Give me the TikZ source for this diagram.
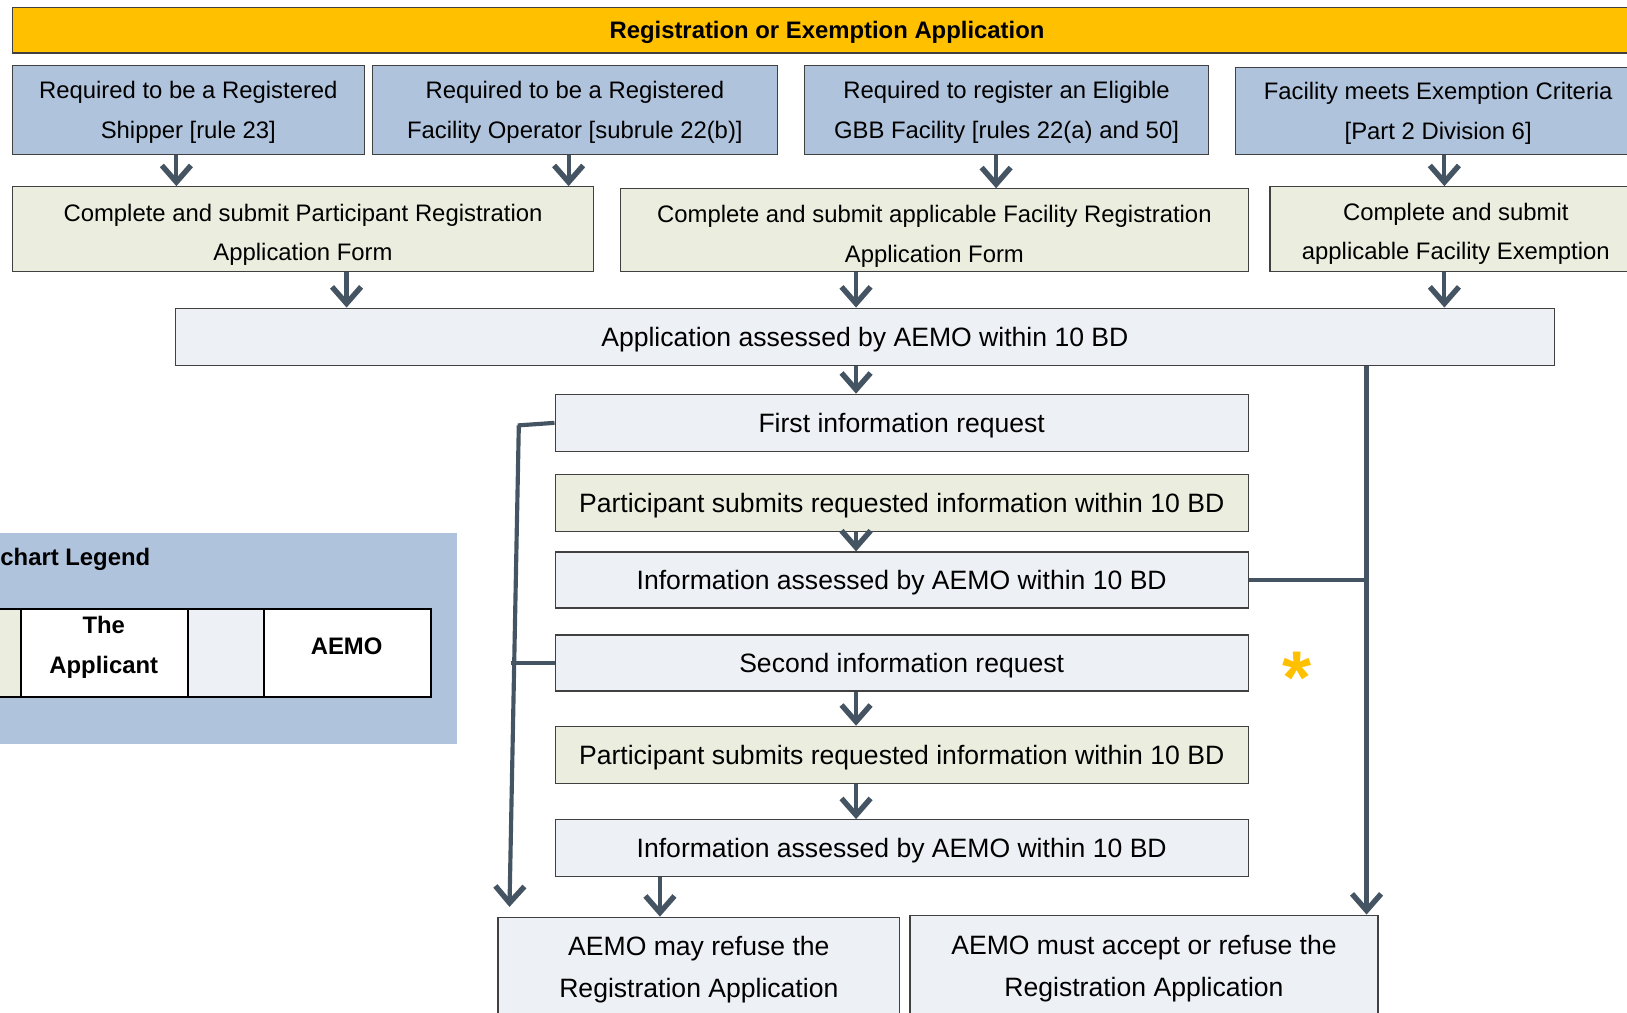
\documentclass[tikz,border=0pt]{standalone}
\usepackage{fontspec}
\setmainfont{Liberation Sans}
\usetikzlibrary{arrows.meta}
\definecolor{regblue}{RGB}{176,195,220}
\definecolor{appgreen}{RGB}{235,238,222}
\definecolor{aemogrey}{RGB}{237,240,245}
\definecolor{regorange}{RGB}{255,192,0}
\definecolor{flowline}{RGB}{68,84,98}
\begin{document}
\begin{tikzpicture}[x=0.5pt,y=-0.5pt,
    box/.style={draw=black!75,line width=0.6pt,inner sep=0pt,align=center,text depth=0pt,
      font=\fontsize{11.5}{19}\selectfont},
    form box/.style={box,fill=appgreen,text height=30.5pt},
    step box/.style={box,font=\fontsize{12.8}{20.5}\selectfont},
    arr/.style={draw=flowline,line width=2pt,-{Straight Barb[length=8pt,width=14pt,line width=2.6pt]}},
    ln/.style={draw=flowline,line width=2pt}]
     		\useasboundingbox (0,0) rectangle (1568,976);
     		\clip (0,0) rectangle (1568,976);
     		\node[box,fill=regorange,minimum width=785pt,minimum height=22pt,font=\fontsize{11.5}{19}\selectfont\bfseries] (title) at (797,29) {Registration or Exemption Application};
     		\node[box,fill=regblue,minimum width=169.5pt,minimum height=43pt] (A) at (181.5,106) {Required to be a Registered\\Shipper [rule 23]};
     		\node[box,fill=regblue,minimum width=195pt,minimum height=43pt] (B) at (554,106) {Required to be a Registered\\Facility Operator [subrule 22(b)]};
     		\node[box,fill=regblue,minimum width=195pt,minimum height=43pt] (C) at (970,106) {Required to register an Eligible\\GBB Facility [rules 22(a) and 50]};
     		\node[box,fill=regblue,minimum width=195pt,minimum height=42pt] (D) at (1386,107) {Facility meets Exemption Criteria\\{}[Part 2 Division 6]};
     		\node[form box,minimum width=280pt,minimum height=41pt] (E) at (292,221) {Complete and submit Participant Registration\\Application Form};
     		\node[form box,minimum width=302.5pt,minimum height=40pt] (F) at (900.5,222) {Complete and submit applicable Facility Registration\\Application Form};
     		\node[form box,minimum width=179pt,minimum height=41pt,text height=29.5pt] (G) at (1403,221) {Complete and submit\\applicable Facility Exemption};
     		\node[step box,fill=aemogrey,minimum width=664.5pt,minimum height=27.5pt] (H) at (833.5,324.5) {Application assessed by AEMO within 10 BD};
     		\node[step box,fill=aemogrey,minimum width=334pt,minimum height=27.5pt] (I) at (869,407.5) {First information request};
     		\node[step box,fill=appgreen,minimum width=334pt,minimum height=27.5pt] (J) at (869,484.5) {Participant submits requested information within 10 BD};
     		\node[step box,fill=aemogrey,minimum width=334pt,minimum height=27pt] (K) at (869,559) {Information assessed by AEMO within 10 BD};
     		\node[step box,fill=aemogrey,minimum width=334pt,minimum height=27pt] (L) at (869,639) {Second information request};
     		\node[step box,fill=appgreen,minimum width=334pt,minimum height=27.5pt] (M) at (869,727.5) {Participant submits requested information within 10 BD};
     		\node[step box,fill=aemogrey,minimum width=334pt,minimum height=27.5pt] (N) at (869,817.5) {Information assessed by AEMO within 10 BD};
     		\node[step box,fill=aemogrey,minimum width=193.5pt,minimum height=48pt] (O) at (673.5,932) {AEMO may refuse the\\Registration Application};
     		\node[step box,fill=aemogrey,minimum width=225.5pt,minimum height=49pt] (P) at (1102.5,931) {AEMO must accept or refuse the\\Registration Application};
     		\node[text=regorange,font=\fontsize{36}{36}\selectfont\bfseries] (star) at (1250,653) {*};
     		\draw[arr] (A.south -| 170,0) -- (E.north -| 170,0);
     		\draw[arr] (B.south -| 548,0) -- (E.north -| 548,0);
     		\draw[arr] (C.south -| 960,0) -- (F.north -| 960,0);
     		\draw[arr] (D.south -| 1392,0) -- (G.north -| 1392,0);
     		\draw[arr] (E.south -| 334,0) -- (H.north -| 334,0);
     		\draw[arr] (F.south -| 825,0) -- (H.north -| 825,0);
     		\draw[arr] (G.south -| 1392,0) -- (H.north -| 1392,0);
     		\foreach \a/\b in {H/I,J/K,L/M,M/N}{
     		\draw[arr] (\a.south -| 825,0) -- (\b.north -| 825,0);
     		}
     		\draw[arr] (N.south -| 636,0) -- (O.north -| 636,0);
     		\draw[ln] (I.west) -- (499,410);
     		\draw[arr] (500,410) -- (491,874);
     		\draw[ln] (L.west) -- (492,639);
     		\draw[arr] (H.south -| 1317,0) -- (P.north -| 1317,0);
     		\draw[ln] (K.east) -- (1317,559);
     		\fill[regblue] (-10,514) rectangle (440,717);
     		\node[right,font=\fontsize{11.5}{19}\selectfont\bfseries,inner sep=0pt] (legend) at (0,539) {chart Legend};
     		\fill[appgreen] (-10,587) rectangle (20,672);
     		\fill[white] (20,587) rectangle (181,672);
     		\fill[aemogrey] (181,587) rectangle (254,672);
     		\fill[white] (254,587) rectangle (415,672);
     		\draw[line width=1pt] (-10,587) rectangle (415,672);
     		\foreach \x in {20,181,254}{
     		\draw[line width=1pt] (\x,587)--(\x,672);}
     		\node[align=center,font=\fontsize{11.5}{19}\selectfont\bfseries] (app) at (100,624) {The\\Applicant};
     		\node[font=\fontsize{11.5}{19}\selectfont\bfseries] (aemo) at (334,623) {AEMO};
		\end{tikzpicture}
\end{document}
